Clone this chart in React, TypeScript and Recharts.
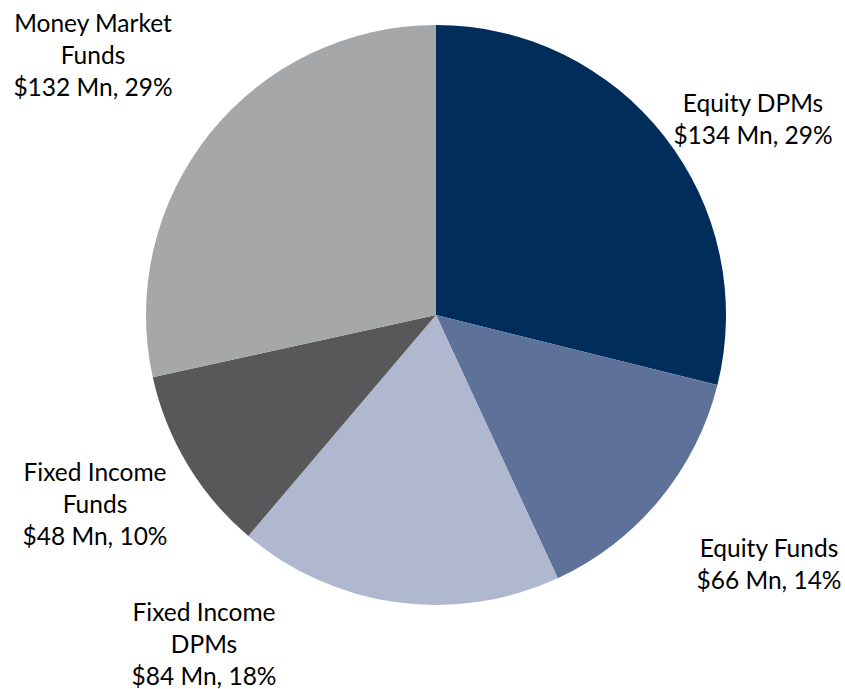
import React from 'react';
import { Cell, Pie, PieChart } from 'recharts';

const names = ['Equity DPMs', 'Equity Funds', 'Fixed Income DPMs', 'Fixed Income Funds', 'Money Market Funds'];
const labelLines = [['Equity DPMs'], ['Equity Funds'], ['Fixed Income', 'DPMs'], ['Fixed Income', 'Funds'], ['Money Market', 'Funds']];
const values = [134, 66, 84, 48, 132];
const percents = [29, 14, 18, 10, 29];

const colors = ['#002D5A', '#5E7299', '#B0B8CF', '#58585A', '#A6A7A9'];
// label block centres, relative to the pie centre (placed by hand in the original)
const labelOffsets = [
  [317, -197],
  [333, 248],
  [-232, 328],
  [-341, 188],
  [-343, -261],
];

const data = names.map((name, i) => ({ name, value: values[i] }));

const LINE_H = 32;

const renderLabel = (props: any) => {
  const { cx, cy, index } = props;
  const lines = [...labelLines[index], `$${values[index]} Mn, ${percents[index]}%`];
  const [dx, dy] = labelOffsets[index];
  const x = cx + dx;
  const top = cy + dy - ((lines.length - 1) * LINE_H) / 2;
  return (
    <text
      key={`label-${index}`}
      x={x}
      y={top}
      textAnchor="middle"
      dominantBaseline="central"
      fill="#000"
      style={{ fontFamily: 'Lato, "Open Sans", sans-serif', fontSize: 24.5 }}
    >
      {lines.map((line, i) => (
        <tspan key={i} x={x} y={top + i * LINE_H}>
          {line}
        </tspan>
      ))}
    </text>
  );
};

export default () => {
  return (
    <div style={{ position: 'absolute', left: 0, top: 0 }}>
      <PieChart width={845} height={689} margin={{ top: 0, right: 0, bottom: 0, left: 0 }}>
        <Pie
          data={data}
          dataKey="value"
          cx={436}
          cy={315}
          outerRadius={290}
          startAngle={90}
          endAngle={-270}
          stroke="none"
          label={renderLabel}
          labelLine={false}
          isAnimationActive={false}
        >
          {data.map((entry, index) => (
            <Cell key={entry.name} fill={colors[index]} />
          ))}
        </Pie>
      </PieChart>
    </div>
  );
};
